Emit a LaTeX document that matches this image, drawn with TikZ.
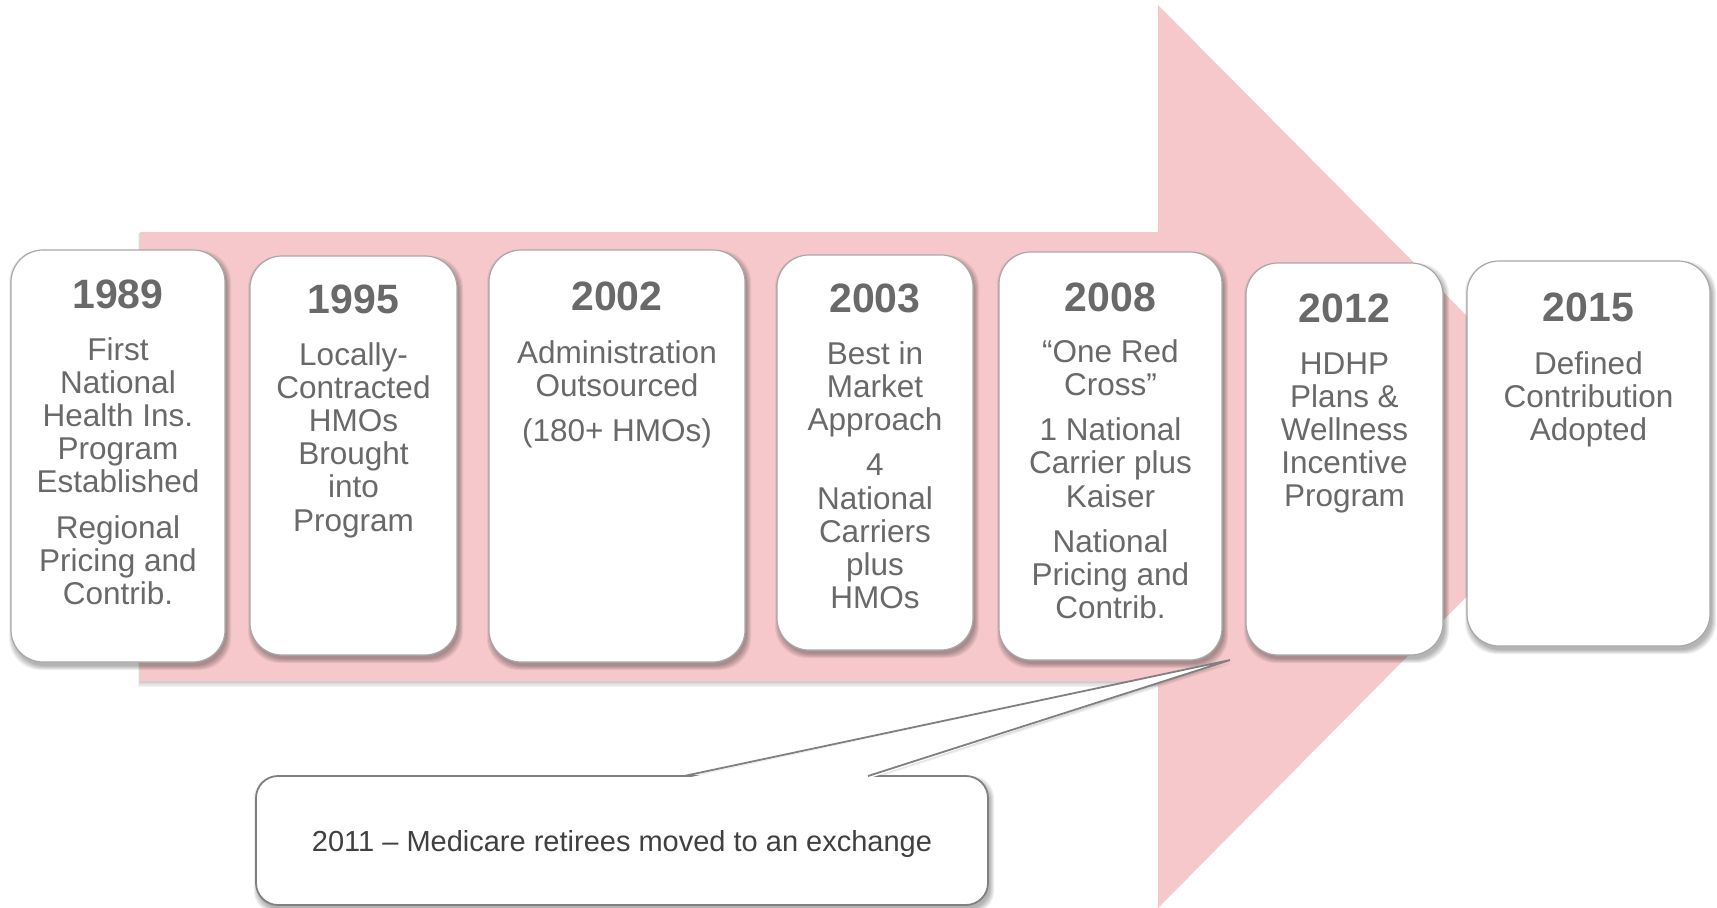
\documentclass[tikz,border=0pt]{standalone}
\usepackage{fontspec}
\setmainfont{Liberation Sans}
\usetikzlibrary{calc}

\definecolor{arrowpink}{RGB}{246,200,203}
\definecolor{txtgray}{RGB}{105,105,105}
\definecolor{edgegray}{RGB}{168,168,168}
\definecolor{calloutedge}{RGB}{128,128,128}
\definecolor{notetext}{RGB}{64,64,64}

% soft shadow under a rounded box: x1, y1, x2, y2, corner radius
\newcommand\softshadow[5]{%
  \foreach \k in {0,...,4}{%
    \fill[black,opacity=0.065,rounded corners=#5]
      ({#1+2-\k},{#2+4-\k}) rectangle ({#3+2+\k},{#4+4+\k});
  }}

% centred multi-line description, first baseline on the node's base
\newcommand\stagetext[2]{\parbox[t]{#1}{\centering #2}}

\tikzset{
  stage/.style={rectangle, draw=edgegray, line width=1.2pt, fill=white,
    rounded corners=32pt, inner sep=0pt, outer sep=0pt},
  yearlabel/.style={anchor=base, inner sep=0pt, text=txtgray,
    font=\fontsize{41}{47}\selectfont\bfseries},
  desc/.style={anchor=base, inner sep=0pt, text=txtgray,
    font=\fontsize{31.5}{33.2}\selectfont},
  notebox/.style={rectangle, draw=calloutedge, line width=1.8pt, fill=white,
    rounded corners=22pt, inner sep=0pt, outer sep=0pt, text=notetext,
    font=\fontsize{29}{34}\selectfont},
  pointerline/.style={draw=calloutedge, line width=1.8pt, line join=miter},
}

\begin{document}
\begin{tikzpicture}[x=1pt,y=-1pt]
\useasboundingbox (0,0) rectangle (1717,908);
\fill[white] (0,0) rectangle (1717,908);

% ---- big timeline arrow ----
\foreach \k in {1,...,4}{%
  \fill[black,opacity=0.05] ({140-0.4*\k},{232+0.3*\k}) rectangle (1158,{681+1.5*\k});
}
\fill[arrowpink] (140,232) -- (1158,232) -- (1158,5) -- (1606,456)
  -- (1158,908) -- (1158,681) -- (140,681) -- cycle;

% ---- shadows of the stage boxes ----
\softshadow{11}{250}{225}{662}{32pt}
\softshadow{250}{256}{457}{655}{32pt}
\softshadow{489}{250}{745}{662}{32pt}
\softshadow{777}{255}{973}{650}{32pt}
\softshadow{999}{252}{1222}{660}{32pt}
\softshadow{1246}{263}{1443}{655}{32pt}
\softshadow{1467}{261}{1710}{646}{32pt}

% ---- stage boxes ----
\node[stage, minimum width=214pt, minimum height=412pt] (b1) at (118,456) {};
\node[stage, minimum width=207pt, minimum height=399pt] (b2) at (353.5,455.5) {};
\node[stage, minimum width=256pt, minimum height=412pt] (b3) at (617,456) {};
\node[stage, minimum width=196pt, minimum height=395pt] (b4) at (875,452.5) {};
\node[stage, minimum width=223pt, minimum height=408pt] (b5) at (1110.5,456) {};
\node[stage, minimum width=197pt, minimum height=392pt] (b6) at (1344.5,459) {};
\node[stage, minimum width=243pt, minimum height=385pt] (b7) at (1588.5,453.5) {};

% ---- years ----
\node[yearlabel] (y1) at (118,308) {1989};
\node[yearlabel] (y2) at (353.5,313) {1995};
\node[yearlabel] (y3) at (617,310) {2002};
\node[yearlabel] (y4) at (875,312) {2003};
\node[yearlabel] (y5) at (1110.5,311) {2008};
\node[yearlabel] (y6) at (1344.5,322) {2012};
\node[yearlabel] (y7) at (1588.5,321) {2015};

% ---- descriptions ----
\node[desc] (d1) at (118,360) {\stagetext{206pt}{First\\National\\Health Ins.\\Program\\Established\\[12.2pt]Regional\\Pricing and\\Contrib.}};
\node[desc] (d2) at (353.5,365) {\stagetext{200pt}{Locally-\\Contracted\\HMOs\\Brought\\into\\Program}};
\node[desc] (d3) at (617,363) {\stagetext{248pt}{Administration\\Outsourced\\[12.2pt](180+ HMOs)}};
\node[desc] (d4) at (875,364) {\stagetext{190pt}{Best in\\Market\\Approach\\[12.2pt]4\\National\\Carriers\\plus\\HMOs}};
\node[desc] (d5) at (1110.5,362) {\stagetext{216pt}{“One Red\\Cross”\\[12.2pt]1 National\\Carrier plus\\Kaiser\\[12.2pt]National\\Pricing and\\Contrib.}};
\node[desc] (d6) at (1344.5,374) {\stagetext{190pt}{HDHP\\Plans \&\\Wellness\\Incentive\\Program}};
\node[desc] (d7) at (1588.5,374) {\stagetext{236pt}{Defined\\Contribution\\Adopted}};

% ---- callout ----
\coordinate (pl) at (684,776);
\coordinate (pr) at (868,776);
\coordinate (tip) at (1230,660);
\softshadow{256}{776}{988}{905}{22pt}
\foreach \k in {1,2,3}{%
  \fill[black,opacity=0.07] ({684+0.5*\k},{776+1.3*\k}) -- ({1230+0.5*\k},{660+1.3*\k}) -- ({868+0.5*\k},{776+1.3*\k}) -- cycle;
}
\node[notebox, minimum width=732pt, minimum height=129pt] (callout) at (622,840.5)
  {\raisebox{-11pt}[10pt][10pt]{2011 -- Medicare retirees moved to an exchange}};
\fill[white] ($(pl)+(0,2.6)$) -- (tip) -- ($(pr)+(0,2.6)$) -- cycle;
\draw[pointerline] (pl) -- (tip) -- (pr);
\end{tikzpicture}
\end{document}
